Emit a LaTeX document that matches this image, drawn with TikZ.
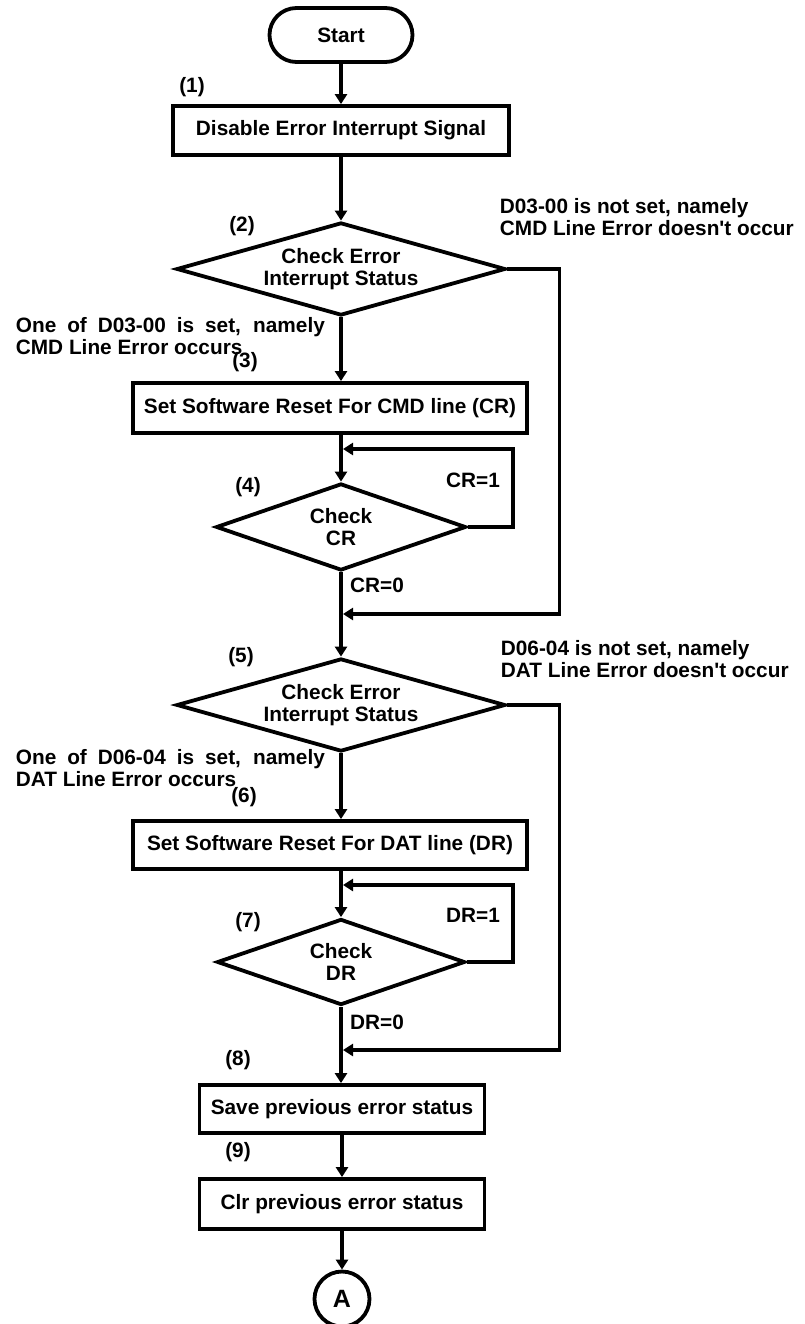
\documentclass[tikz,border=0pt]{standalone}
\usepackage{fontspec}
\setmainfont{Liberation Sans}
\usetikzlibrary{shapes.geometric,arrows.meta}

\begin{document}
\begin{tikzpicture}[x=1pt,y=-1pt,>={Triangle[length=10pt,width=12pt]},line width=3.8pt,
  font=\fontsize{20.8}{22}\selectfont\bfseries,
  box/.style={draw,rectangle,inner sep=0pt},
  test/.style={draw,diamond,inner sep=0pt,align=center,aspect=3},
  tag/.style={inner sep=0pt},
  note/.style={inner sep=0pt,align=left}]
\useasboundingbox (0,0) rectangle (804,1324);
% main column
\node[draw,rounded corners=27pt,minimum width=143pt,minimum height=54pt] (start) at (341,35) {Start};
\node[box,minimum width=336pt,minimum height=49pt] (dis) at (341,130.5) {Disable Error Interrupt Signal};
\node[test,minimum width=329pt,minimum height=92pt] (chk1) at (341,269) {Check Error\\Interrupt Status};
\node[box,minimum width=394pt,minimum height=50pt] (rst1) at (330,408) {Set Software Reset For CMD line (CR)};
\node[test,minimum width=250pt,minimum height=87pt] (chk2) at (341,527) {Check\\CR};
\node[test,minimum width=329pt,minimum height=92pt] (chk3) at (341,705) {Check Error\\Interrupt Status};
\node[box,minimum width=394pt,minimum height=48pt] (rst2) at (330,845) {Set Software Reset For DAT line (DR)};
\node[test,minimum width=248pt,minimum height=86pt] (chk4) at (341,962) {Check\\DR};
\node[box,minimum width=285pt,minimum height=48pt] (sav) at (342,1109) {Save previous error status};
\node[box,minimum width=285pt,minimum height=50pt] (clr) at (342,1204) {Clr previous error status};
\node[draw,circle,minimum size=55pt,inner sep=0pt,font=\fontsize{25}{25}\selectfont\bfseries] (A) at (342,1299) {A};
% step numbers
\node[tag] (n1) at (192,87) {(1)};
\node[tag] (n2) at (242,226) {(2)};
\node[tag] (n3) at (245,362) {(3)};
\node[tag] (n4) at (248,487) {(4)};
\node[tag] (n5) at (241,657) {(5)};
\node[tag] (n6) at (244,797) {(6)};
\node[tag] (n7) at (248,922) {(7)};
\node[tag] (n8) at (238,1060) {(8)};
\node[tag] (n9) at (238,1152) {(9)};
% branch texts
\node[note,anchor=west] (no1) at (498,217.5) {D03-00 is not set, namely\\CMD Line Error doesn\textquotesingle t occur};
\node[note,anchor=west] (yes1) at (14,336.5) {\makebox[309pt][s]{One of D03-00 is set, namely}\\CMD Line Error occurs};
\node[note,anchor=west] (no2) at (499,659) {D06-04 is not set, namely\\DAT Line Error doesn\textquotesingle t occur};
\node[note,anchor=west] (yes2) at (14,768.5) {\makebox[309pt][s]{One of D06-04 is set, namely}\\DAT Line Error occurs};
\node[tag] (cr1) at (473,480) {CR=1};
\node[tag] (cr0) at (377,585) {CR=0};
\node[tag] (dr1) at (473,915) {DR=1};
\node[tag] (dr0) at (377,1022) {DR=0};
% joins on the main line
\coordinate (l1) at (343,449);
\coordinate (j1) at (343,614);
\coordinate (l2) at (343,885);
\coordinate (j2) at (343,1050);
% connectors
\draw[->] (start) -- (dis.north -| start);
\draw[->] (dis) -- (chk1.north);
\draw[->] (chk1.south) -- (rst1.north -| chk1.south);
\draw[->] (rst1.south -| chk2) -- (chk2.north);
\draw[->] (chk2.east) -- ++(45,0) |- (l1);
\draw[->] (chk2.south) -- (chk3.north);
\draw[->] (chk1.east) -- ++(52,0) |- (j1);
\draw[->] (chk3.south) -- (rst2.north -| chk3.south);
\draw[->] (rst2.south -| chk4) -- (chk4.north);
\draw[->] (chk4.east) -- ++(46,0) |- (l2);
\draw[->] (chk4.south) -- (sav.north -| chk4.south);
\draw[->] (chk3.east) -- ++(52,0) |- (j2);
\draw[->] (sav) -- (clr);
\draw[->] (clr) -- (A);
\end{tikzpicture}
\end{document}
